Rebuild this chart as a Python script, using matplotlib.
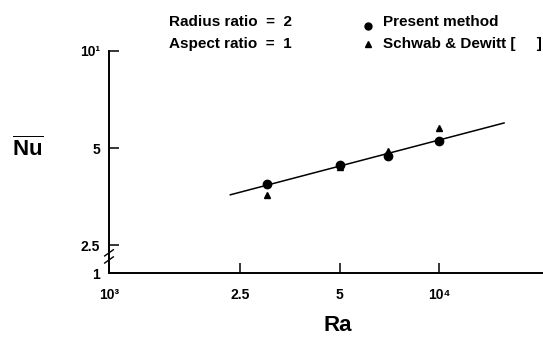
import matplotlib
matplotlib.use("Agg")
import matplotlib.pyplot as plt
from matplotlib.lines import Line2D

plt.rcParams['font.family'] = ['Liberation Sans', 'DejaVu Sans']
plt.rcParams['font.weight'] = 'bold'
plt.rcParams['mathtext.fontset'] = 'custom'
plt.rcParams['mathtext.bf'] = 'Liberation Sans:bold'
plt.rcParams['mathtext.rm'] = 'Liberation Sans:bold'

# data
ra_points = [3.0e3, 5.0e3, 7.0e3, 1.0e4]
nu_present = [3.88, 4.42, 4.71, 5.27]
nu_schwab = [3.58, 4.37, 4.89, 5.78]
ra_fit = [2.33e3, 1.57e4]
nu_fit = [3.58, 5.98]

x_ticks = [1e3, 2.5e3, 5e3, 1e4]
x_labels = ['10³', '2.5', '5', '10⁴']
y_ticks = [2.043, 2.5, 5, 10]
y_labels = ['1', '2.5', '5', '10¹']

W, H = 543, 337
fig = plt.figure(figsize=(W / 100, H / 100), dpi=100)
ax = fig.add_axes([109 / W, 1 - 273.3 / H, (W - 109) / W, (273.3 - 51) / H])

ax.set_xscale('log')
ax.set_yscale('log')
ax.set_xlim(1e3, 2.06e4)
ax.set_ylim(2.043, 10)

ax.plot(ra_fit, nu_fit, color='black', lw=1.1)
ax.plot(ra_points, nu_present, 'o', color='black', ms=6, clip_on=False)
ax.plot(ra_points, nu_schwab, '^', color='black', ms=4.5, clip_on=False)

ax.spines['top'].set_visible(False)
ax.spines['right'].set_visible(False)
for s in ['left', 'bottom']:
    ax.spines[s].set_linewidth(1.4)

ax.minorticks_off()
ax.set_xticks(x_ticks)
ax.set_xticklabels(x_labels)
ax.set_yticks(y_ticks)
ax.set_yticklabels(y_labels)
ax.tick_params(axis='both', direction='in', length=7.5, width=1.1,
               labelsize=10)
ax.tick_params(axis='x', pad=10.5)
ax.tick_params(axis='y', pad=6.5)
for lab in ax.get_xticklabels() + ax.get_yticklabels():
    lab.set_fontweight('bold')

# axis break on the y axis
ax.add_line(Line2D([0, 0], [0.062, 0.09], transform=ax.transAxes,
                   color='white', lw=3, clip_on=False))
for yc in (0.06, 0.092):
    ax.add_line(Line2D([-0.01, 0.01], [yc - 0.014, yc + 0.014],
                       transform=ax.transAxes, color='black', lw=1.0,
                       clip_on=False))

fig.text(337.5 / W, 1 - 331 / H, 'Ra', fontsize=16, fontweight='bold',
         ha='center', va='baseline')
fig.text(28 / W, 1 - 149 / H, r'$\overline{\mathbf{Nu}}$', fontsize=16,
         ha='center', va='center')

# annotation block
fig.text(169 / W, 1 - 26 / H, 'Radius ratio  =  2', fontsize=11,
         fontweight='bold', va='baseline')
fig.text(169 / W, 1 - 48 / H, 'Aspect ratio  =  1', fontsize=11,
         fontweight='bold', va='baseline')

ax.plot([0.596], [1.112], 'o', color='black', ms=5, transform=ax.transAxes,
        clip_on=False)
ax.plot([0.596], [1.03], '^', color='black', ms=4, transform=ax.transAxes,
        clip_on=False)
fig.text(383 / W, 1 - 26 / H, 'Present method', fontsize=11,
         fontweight='bold', va='baseline')
fig.text(383 / W, 1 - 48 / H, 'Schwab & Dewitt [     ]', fontsize=11,
         fontweight='bold', va='baseline')

fig.savefig('out.png', dpi=100)
